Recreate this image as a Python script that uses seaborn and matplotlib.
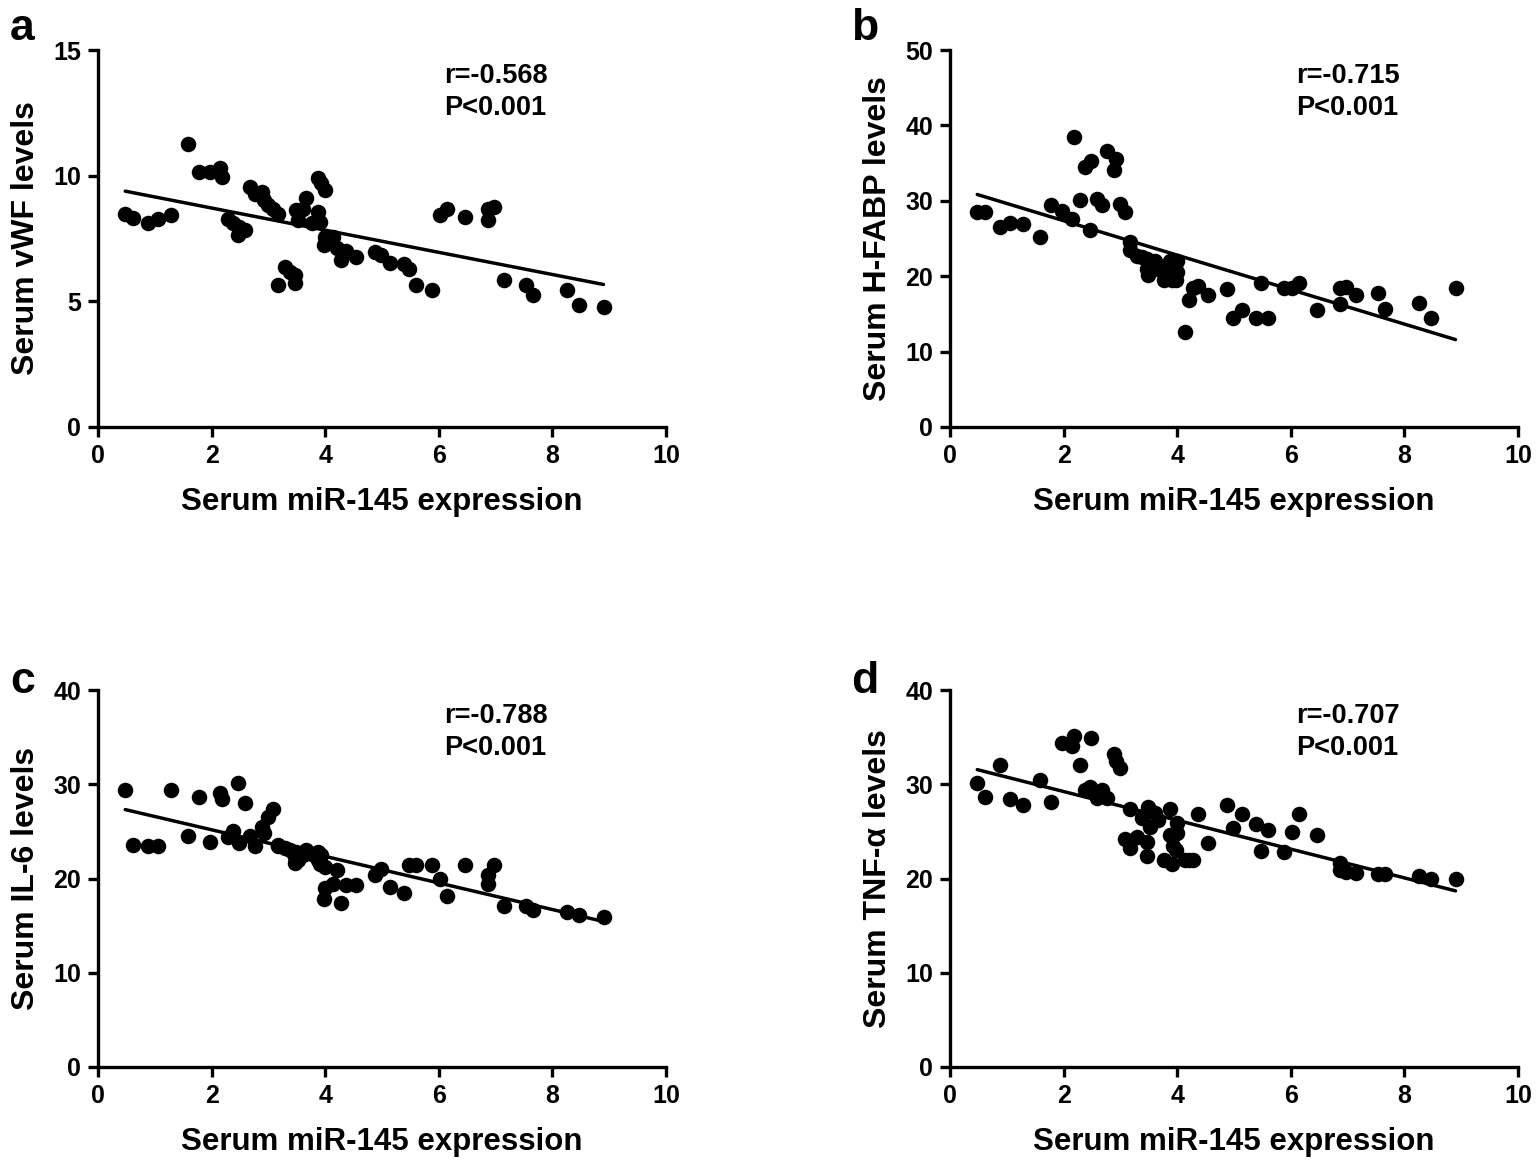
import matplotlib
matplotlib.use("Agg")
import matplotlib.pyplot as plt
import seaborn as sns
import numpy as np
import pandas as pd

# Shared x values: Serum miR-145 expression
mir145 = [0.48, 0.62, 0.88, 1.06, 1.28, 1.58, 1.78, 1.98, 2.15, 2.18,
          2.28, 2.38, 2.49, 2.58, 2.46, 2.68, 2.76, 2.88, 2.93, 2.99,
          3.08, 3.17, 3.29, 3.38, 3.47, 3.47, 3.17, 3.49, 3.61, 3.52,
          3.67, 3.87, 3.93, 3.99, 3.87, 3.76, 3.90, 3.99, 4.14, 3.98,
          4.20, 4.37, 4.27, 4.55, 4.87, 4.99, 5.14, 5.38, 5.48, 5.60,
          5.88, 6.02, 6.14, 6.47, 6.87, 6.87, 6.98, 7.14, 7.54, 7.66,
          8.25, 8.46, 8.90]

vwf = [8.46, 8.30, 8.11, 8.27, 8.45, 11.26, 10.14, 10.14, 10.29, 9.96,
       8.26, 8.11, 7.95, 7.84, 7.64, 9.56, 9.27, 9.36, 9.03, 8.83,
       8.66, 8.48, 6.38, 6.18, 6.05, 5.74, 5.65, 8.64, 8.66, 8.24,
       9.12, 9.90, 9.70, 9.43, 8.57, 8.11, 8.17, 7.57, 7.57, 7.24,
       7.11, 7.00, 6.65, 6.78, 6.98, 6.84, 6.51, 6.49, 6.28, 5.65,
       5.45, 8.44, 8.66, 8.34, 8.24, 8.66, 8.77, 5.85, 5.65, 5.25,
       5.45, 4.85, 4.76]

hfabp = [28.5, 28.5, 26.5, 27.1, 26.9, 25.2, 29.4, 28.7, 27.6, 38.5,
         30.1, 34.5, 35.3, 30.2, 26.1, 29.4, 36.6, 34.1, 35.6, 29.6,
         28.5, 23.5, 22.7, 22.5, 22.3, 21.0, 24.6, 20.2, 22.0, 21.5,
         21.0, 22.0, 21.5, 22.0, 20.5, 19.5, 19.5, 20.5, 12.6, 19.5,
         16.8, 18.7, 18.4, 17.5, 18.3, 14.5, 15.5, 14.5, 19.1, 14.5,
         18.4, 18.4, 19.1, 15.5, 18.4, 16.3, 18.6, 17.5, 17.8, 15.6,
         16.4, 14.5, 18.4]

il6 = [29.4, 23.6, 23.4, 23.45, 29.4, 24.5, 28.6, 23.9, 29.1, 28.4,
       24.4, 25.0, 23.8, 28.0, 30.1, 24.5, 23.4, 25.5, 24.8, 26.5,
       27.4, 23.4, 23.2, 23.0, 22.3, 21.6, 23.6, 22.8, 22.5, 22.0,
       23.0, 22.8, 22.5, 21.2, 22.0, 22.6, 21.5, 19.0, 19.4, 17.8,
       20.9, 19.3, 17.4, 19.3, 20.4, 21.0, 19.1, 18.5, 21.4, 21.4,
       21.4, 19.9, 18.1, 21.4, 20.4, 19.4, 21.4, 17.1, 17.1, 16.7,
       16.4, 16.1, 15.95]

tnfa = [30.1, 28.6, 32.0, 28.4, 27.8, 30.5, 28.1, 34.4, 34.1, 35.1,
        32.0, 29.4, 34.9, 28.5, 29.7, 29.4, 28.5, 33.2, 32.5, 31.7,
        24.2, 27.4, 24.4, 26.4, 23.9, 22.4, 23.2, 27.6, 26.9, 25.5,
        26.2, 27.4, 23.4, 25.9, 24.6, 22.0, 21.5, 24.8, 22.0, 23.0,
        22.0, 26.8, 22.0, 23.8, 27.8, 25.4, 26.8, 25.8, 22.9, 25.1,
        22.8, 24.9, 26.8, 24.6, 21.6, 20.9, 20.7, 20.6, 20.5, 20.5,
        20.3, 20.0, 19.9]

panel_letters = ["a", "b", "c", "d"]
y_labels = ["Serum vWF levels", "Serum H-FABP levels", "Serum IL-6 levels", "Serum TNF-α levels"]
r_texts = ["r=-0.568", "r=-0.715", "r=-0.788", "r=-0.707"]
p_text = "P<0.001"
x_label = "Serum miR-145 expression"
y_maxes = [15, 50, 40, 40]
y_steps = [5, 10, 10, 10]
x_ticks = [0, 2, 4, 6, 8, 10]

sns.set_theme(style="ticks")
plt.rcParams['font.family'] = ['Liberation Sans', 'DejaVu Sans']
plt.rcParams['font.weight'] = 'bold'
plt.rcParams['text.color'] = 'black'
plt.rcParams['axes.labelcolor'] = 'black'
plt.rcParams['xtick.color'] = 'black'
plt.rcParams['ytick.color'] = 'black'

W, H = 1536, 1164
fig = plt.figure(figsize=(W / 100, H / 100), dpi=100)

# axes pixel boxes: left, top, right, bottom
boxes = [(98, 50, 666, 427), (950, 50, 1518, 427),
         (98, 690, 666, 1067), (950, 690, 1518, 1067)]
letter_pos = [(10, 40), (851, 40), (10, 693), (851, 693)]
series = [vwf, hfabp, il6, tnfa]

for i in range(4):
    l, t, r, b = boxes[i]
    ax = fig.add_axes([l / W, 1 - b / H, (r - l) / W, (b - t) / H])
    df = pd.DataFrame({"x": mir145, "y": series[i]})
    sns.regplot(data=df, x="x", y="y", ax=ax, ci=None, color="black",
                scatter_kws=dict(s=125, linewidths=0, alpha=1, clip_on=False, zorder=3),
                line_kws=dict(lw=2.5, color="black", zorder=4))
    ax.set_xlim(0, 10)
    ax.set_ylim(0, y_maxes[i])
    ax.set_xticks(x_ticks)
    ax.set_yticks(np.arange(0, y_maxes[i] + 0.1, y_steps[i]))
    for s in ["top", "right"]:
        ax.spines[s].set_visible(False)
    for s in ["left", "bottom"]:
        ax.spines[s].set_linewidth(2.4)
        ax.spines[s].set_color("black")
    ax.tick_params(axis="both", direction="out", length=7, width=2.4,
                   labelsize=18, colors="black", pad=5)
    for lab in ax.get_xticklabels() + ax.get_yticklabels():
        lab.set_fontweight("bold")
    ax.set_xlabel(x_label, fontsize=22.5, fontweight="bold", labelpad=14, color="black")
    ax.set_ylabel(y_labels[i], fontsize=23, fontweight="bold", labelpad=9, color="black")
    ax.set_facecolor("white")
    ax.text(0.609, 0.93, r_texts[i], transform=ax.transAxes, fontsize=19.5,
            fontweight="bold", ha="left", va="center", color="black")
    ax.text(0.609, 0.846, p_text, transform=ax.transAxes, fontsize=19.5,
            fontweight="bold", ha="left", va="center", color="black")
    lx, ly = letter_pos[i]
    fig.text(lx / W, 1 - ly / H, panel_letters[i], fontsize=32,
             fontweight="bold", ha="left", va="baseline", color="black")

fig.savefig("out.png", dpi=100, facecolor="white")
